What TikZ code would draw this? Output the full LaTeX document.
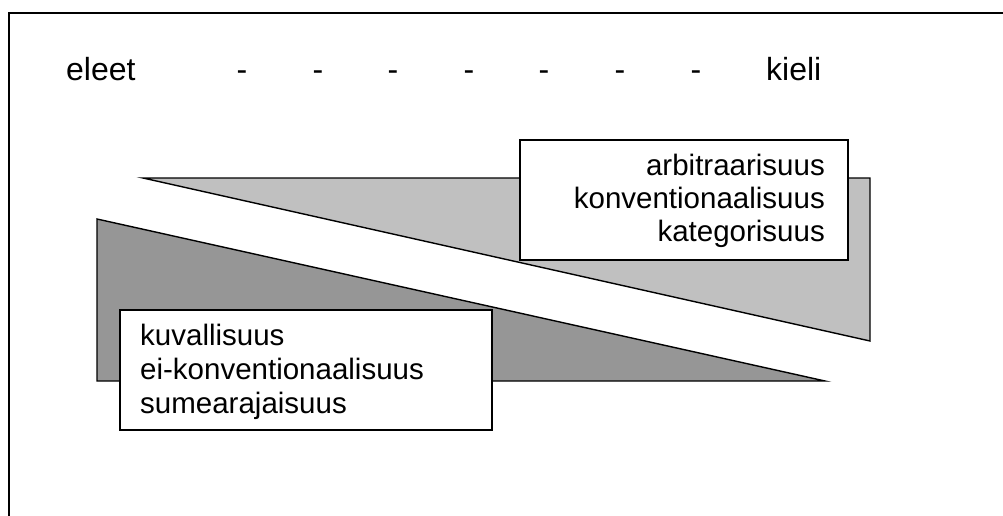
\documentclass[tikz,border=0pt]{standalone}
\usepackage{fontspec}
\setmainfont{Liberation Sans}
\definecolor{lightwedge}{RGB}{192,192,192}
\definecolor{darkwedge}{RGB}{150,150,150}
\tikzset{
  wedge/.style={draw=black, line width=1.4pt, line join=miter},
  labelbox/.style={draw=black, line width=1.8pt, fill=white, inner sep=0pt, anchor=north west},
  txt/.style={inner sep=0pt, font=\fontsize{29.5}{33}\selectfont},
  toptxt/.style={inner sep=0pt, font=\fontsize{32}{36}\selectfont},
  frame/.style={draw=black, line width=2pt}
}
\begin{document}
\begin{tikzpicture}[x=1pt,y=-1pt]
\useasboundingbox (0,0) rectangle (1003,516);
\clip (0,0) rectangle (1003,516);
\fill[white] (0,0) rectangle (1003,516);
\draw[frame] (8.5,13) rectangle (1030,540);
% scale row
\node[toptxt, anchor=base west] (eleet) at (66,81) {eleet};
\foreach \i/\xx in {1/242,2/318,3/393,4/469,5/544,6/620,7/696}{
  \node[toptxt, anchor=base] (d\i) at (\xx,81) {-};
}
\node[toptxt, anchor=base west] (kieli) at (766,81) {kieli};
% wedges
\path[wedge, fill=lightwedge] (143,178) -- (870,178) -- (870,341) -- cycle;
\path[wedge, fill=darkwedge] (97,219) -- (97,381) -- (825,381) -- cycle;
% boxes
\node[labelbox, minimum width=328pt, minimum height=120pt] (ubox) at (519,139) {};
\node[txt, anchor=base east] (u1) at (825,175) {arbitraarisuus};
\node[txt, anchor=base east] (u2) at (825,208) {konventionaalisuus};
\node[txt, anchor=base east] (u3) at (825,241) {kategorisuus};
\node[labelbox, minimum width=372pt, minimum height=120pt] (lbox) at (119,309) {};
\node[txt, anchor=base west] (l1) at (140,345) {kuvallisuus};
\node[txt, anchor=base west] (l2) at (140,379) {ei-konventionaalisuus};
\node[txt, anchor=base west] (l3) at (140,413) {sumearajaisuus};
\end{tikzpicture}
\end{document}
